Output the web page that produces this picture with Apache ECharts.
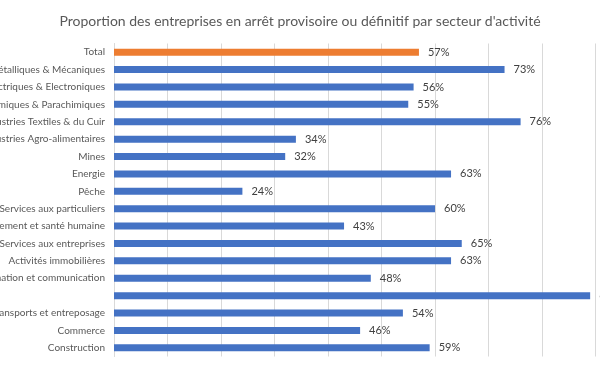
<!DOCTYPE html>
<html><head><meta charset="utf-8">
<script src="https://cdn.jsdelivr.net/npm/echarts@6/dist/echarts.min.js"></script>
<style>html,body{margin:0;padding:0;background:#fff}#c{width:600px;height:372px}</style>
</head><body><div id="c"></div>
<script>
const categories = ["Total","Industries Métalliques & Mécaniques","Industries Electriques & Electroniques","Industries Chimiques & Parachimiques","Industries Textiles & du Cuir","Industries Agro-alimentaires","Mines","Energie","Pêche","Services aux particuliers","Enseignement et santé humaine","Services aux entreprises","Activités immobilières","Information et communication","","Transports et entreposage","Commerce","Construction"];
const values = [57,73,56,55,76,34,32,63,24,60,43,65,63,48,89,54,46,59];
const highlightIndex = 0;
const font = "Lato, 'Open Sans', sans-serif";
const chart = echarts.init(document.getElementById('c'));
chart.setOption({
  animation:false,
  title:{text:"Proportion des entreprises en arrêt provisoire ou définitif par secteur d'activité",left:'center',top:9,textStyle:{fontFamily:font,fontSize:14,fontWeight:'normal',color:'#595959'}},
  grid:{left:114,right:-49,top:43.5,bottom:15.5,outerBoundsMode:'none',containLabel:false},
  xAxis:{type:'value',min:0,max:100,interval:10,axisLabel:{show:false},axisLine:{show:false},axisTick:{show:false},splitLine:{lineStyle:{color:'#d9d9d9',width:1}}},
  yAxis:{type:'category',inverse:true,data:categories,axisTick:{show:false},axisLine:{show:true,lineStyle:{color:'#d9d9d9'}},axisLabel:{fontFamily:font,fontSize:10,color:'#595959',margin:9}},
  series:[{type:'bar',barWidth:7,data:values.map((v,i)=>({value:v,itemStyle:{color:i===highlightIndex?'#ED7D31':'#4472C4'}})),
    label:{show:true,position:'right',distance:9,formatter:p=>p.value+'%',fontFamily:font,fontSize:11,color:'#404040'}}]
});
</script></body></html>
